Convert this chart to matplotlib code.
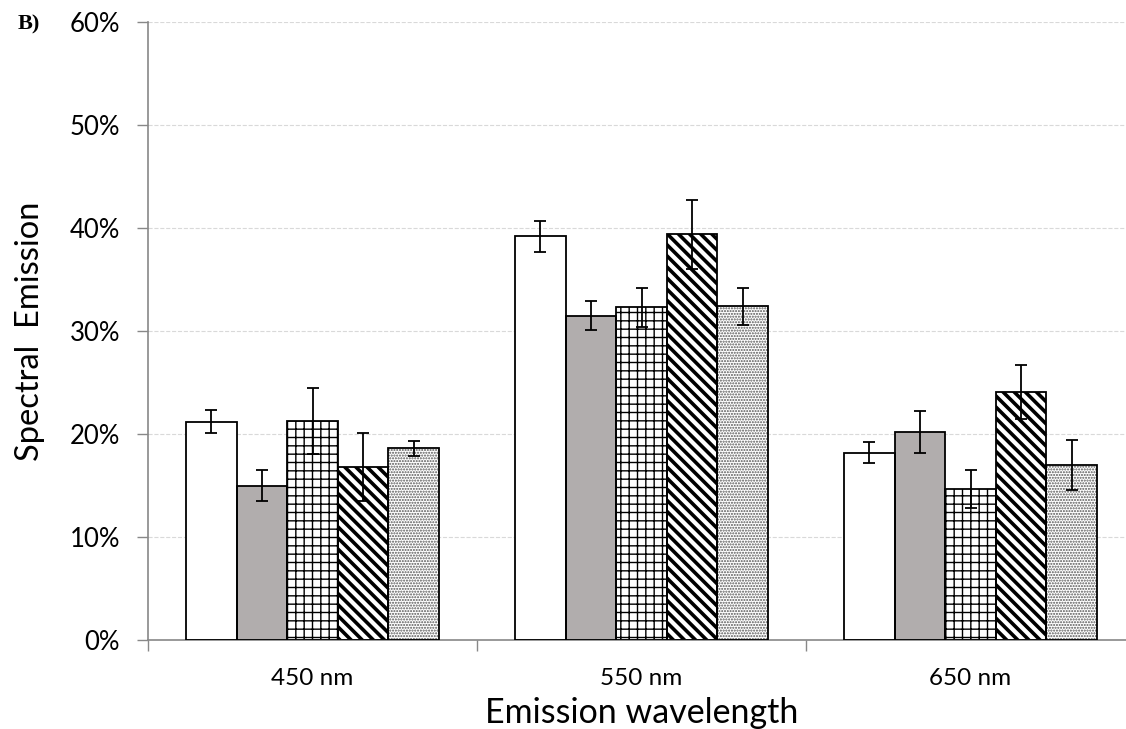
import matplotlib.pyplot as plt
import numpy as np

categories = ["450 nm", "550 nm", "650 nm"]

# five series per wavelength, values in %
values = [
    [21.2, 39.2, 18.2],
    [15.0, 31.5, 20.2],
    [21.3, 32.3, 14.7],
    [16.8, 39.4, 24.1],
    [18.6, 32.4, 17.0],
]
errors = [
    [1.1, 1.5, 1.05],
    [1.5, 1.45, 2.0],
    [3.2, 1.9, 1.85],
    [3.3, 3.35, 2.6],
    [0.7, 1.8, 2.45],
]

faces = ["white", "#b1adad", "white", "white", "white"]
hatches = [None, None, "++", "\\\\\\", "......"]
hatch_colors = ["black", "black", "black", "black", "#555555"]
hatch_widths = [1.0, 1.0, 1.0, 2.6, 1.0]


def main() -> None:
    plt.rcParams["font.family"] = ["Lato", "DejaVu Sans"]
    fig = plt.figure(figsize=(11.26, 7.29), dpi=100)
    ax = fig.add_axes([148 / 1126, 89 / 729, 987 / 1126, 618 / 729])

    x = np.arange(len(categories))
    width = 0.1535
    for i in range(len(values)):
        pos = x + (i - 2) * width
        with plt.rc_context({"hatch.linewidth": hatch_widths[i]}):
            ax.bar(pos, values[i], width=width, color=faces[i],
                   edgecolor=hatch_colors[i], hatch=hatches[i], linewidth=0, zorder=2)
        ax.bar(pos, values[i], width=width, color="none",
               edgecolor="black", linewidth=1.3, zorder=3)
        ax.errorbar(pos, values[i], yerr=errors[i], fmt="none", ecolor="black",
                    elinewidth=1.3, capsize=4, capthick=1.3, zorder=4)

    ax.set_xlim(-0.5, 2.5)
    ax.set_ylim(0, 60)
    ax.set_yticks(range(0, 61, 10))
    ax.set_yticklabels([f"{v}%" for v in range(0, 61, 10)], fontsize=18.5)
    ax.set_xticks(x)
    ax.set_xticklabels(categories, fontsize=17.5)
    ax.set_xticks([-0.5, 0.5, 1.5], minor=True)
    ax.tick_params(axis="x", which="major", length=0, pad=20)
    ax.tick_params(axis="x", which="minor", length=8, color="#888888", width=1)
    ax.tick_params(axis="y", length=8, color="#888888", width=1, pad=12)

    ax.grid(axis="y", color="#d9d9d9", linestyle="--", linewidth=0.8, zorder=0)
    ax.set_axisbelow(True)
    for side in ("top", "right"):
        ax.spines[side].set_visible(False)
    for side in ("left", "bottom"):
        ax.spines[side].set_color("#888888")
        ax.spines[side].set_linewidth(1.2)

    ax.set_ylabel("Spectral  Emission", fontsize=23.5, labelpad=18)
    ax.set_xlabel("Emission wavelength", fontsize=24.5, labelpad=6)

    fig.text(18 / 1126, 1 - 24 / 729, "B)", fontsize=16, fontweight="bold",
             family="Liberation Serif", va="center")

    fig.savefig("out.png", dpi=100)
    plt.close(fig)


if __name__ == "__main__":
    main()
